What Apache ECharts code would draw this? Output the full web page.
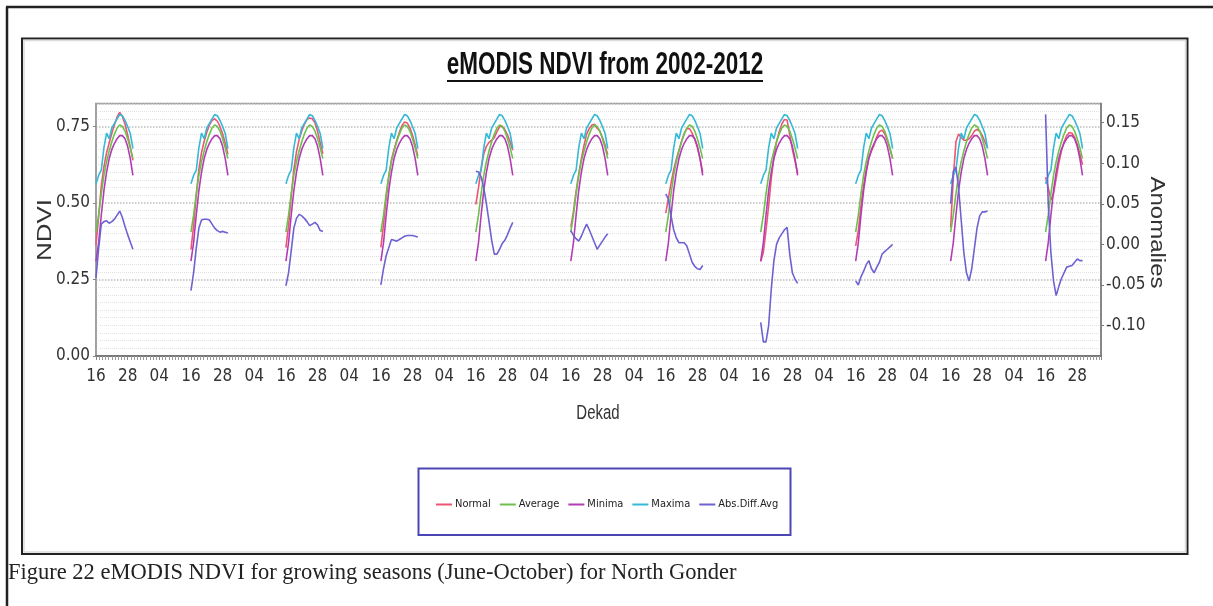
<!DOCTYPE html>
<html><head><meta charset="utf-8">
<script src="https://cdn.jsdelivr.net/npm/echarts@6/dist/echarts.min.js"></script>
<style>html,body{margin:0;padding:0;background:#fff}#c{width:1213px;height:606px}</style>
</head><body><div id="c"></div>
<script>
// ---------- data ----------
const YEARS = [2002,2003,2004,2005,2006,2007,2008,2009,2010,2011,2012];
const DEKADS = [16,17,18,19,20,21,22,23,24,25,26,27,28,29,30];
const SERIES_NAMES = ['Normal','Average','Minima','Maxima','Abs.Diff.Avg'];
const RIGHT_TICKS = [-0.10,-0.05,0.00,0.05,0.10,0.15];

// long-term curves (same every season)
const AVERAGE = [0.405,0.46,0.53,0.59,0.635,0.67,0.70,0.725,0.745,0.755,0.75,0.735,0.71,0.68,0.645];
const MINIMA  = [0.31,0.37,0.46,0.54,0.60,0.645,0.675,0.695,0.71,0.72,0.72,0.71,0.685,0.645,0.59];
const MAXIMA  = [0.563,0.59,0.607,0.68,0.728,0.71,0.745,0.76,0.775,0.789,0.785,0.77,0.75,0.727,0.678];

// season values for each year (NDVI)
const NORMAL = [
  [0.364,0.455,0.555,0.618,0.664,0.696,0.728,0.756,0.781,0.796,0.783,0.757,0.722,0.683,0.639],
  [0.348,0.425,0.525,0.61,0.665,0.701,0.731,0.755,0.77,0.775,0.767,0.75,0.726,0.695,0.659],
  [0.354,0.425,0.522,0.61,0.667,0.707,0.735,0.757,0.773,0.778,0.775,0.762,0.734,0.697,0.661],
  [0.355,0.43,0.516,0.586,0.641,0.675,0.704,0.731,0.753,0.765,0.761,0.746,0.721,0.69,0.654],
  [0.495,0.549,0.613,0.66,0.685,0.698,0.705,0.713,0.733,0.749,0.751,0.74,0.722,0.70,0.672],
  [0.422,0.471,0.537,0.594,0.645,0.688,0.725,0.743,0.755,0.757,0.744,0.734,0.714,0.689,0.658],
  [0.467,0.516,0.565,0.608,0.643,0.672,0.702,0.727,0.743,0.743,0.728,0.708,0.68,0.645,0.60],
  [0.309,0.34,0.41,0.49,0.58,0.65,0.70,0.733,0.758,0.773,0.771,0.723,0.675,0.637,0.597],
  [0.36,0.41,0.49,0.557,0.61,0.65,0.67,0.69,0.717,0.733,0.738,0.726,0.704,0.677,0.645],
  [0.42,0.58,0.70,0.725,0.715,0.705,0.705,0.71,0.72,0.735,0.74,0.735,0.72,0.70,0.68],
  [0.584,0.55,0.51,0.53,0.58,0.63,0.67,0.70,0.72,0.73,0.728,0.715,0.69,0.66,0.625]
];

// anomalies (right axis)
const ABS_DIFF_AVG = [
  [-0.041,-0.005,0.025,0.028,0.029,0.026,0.028,0.031,0.036,0.041,0.033,0.022,0.012,0.003,-0.006],
  [-0.057,-0.035,-0.005,0.02,0.03,0.031,0.031,0.03,0.025,0.02,0.017,0.015,0.016,0.015,0.014],
  [-0.051,-0.035,-0.008,0.02,0.032,0.037,0.035,0.032,0.028,0.023,0.025,0.027,0.024,0.017,0.016],
  [-0.05,-0.03,-0.014,-0.004,0.006,0.005,0.004,0.006,0.008,0.01,0.011,0.011,0.011,0.01,0.009],
  [0.09,0.089,0.083,0.07,0.05,0.028,0.005,-0.012,-0.012,-0.006,0.001,0.005,0.012,0.02,0.027],
  [0.017,0.011,0.007,0.004,0.01,0.018,0.025,0.018,0.01,0.002,-0.006,-0.001,0.004,0.009,0.013],
  [0.062,0.056,0.035,0.018,0.008,0.002,0.002,0.002,-0.002,-0.012,-0.022,-0.027,-0.03,-0.031,-0.026],
  [-0.096,-0.12,-0.12,-0.1,-0.055,-0.02,0.0,0.008,0.013,0.018,0.021,-0.012,-0.035,-0.043,-0.048],
  [-0.045,-0.05,-0.04,-0.033,-0.025,-0.02,-0.03,-0.035,-0.028,-0.022,-0.012,-0.009,-0.006,-0.003,0.0],
  [0.05,0.09,0.095,0.07,0.03,-0.01,-0.035,-0.045,-0.03,-0.005,0.02,0.035,0.04,0.04,0.041],
  [0.16,0.05,-0.01,-0.045,-0.063,-0.052,-0.042,-0.035,-0.028,-0.027,-0.026,-0.022,-0.018,-0.02,-0.02]
];

// ---------- build ----------
const DEK_PER_YEAR = 36, FIRST_DEKAD = 16;
function build(rowFor) {
  const out = [];
  YEARS.forEach((yr, i) => {
    const row = rowFor(i);
    DEKADS.forEach((d, j) => out.push([i * DEK_PER_YEAR + d - FIRST_DEKAD, row[j]]));
    if (i < YEARS.length - 1) out.push([i * DEK_PER_YEAR + 20, '-']);
  });
  return out;
}
const COLORS = ['#ec5573','#6cc14c','#b23cb4','#35b9d6','#6d62d2'];
const NARROW = '"Liberation Sans Narrow","Arial Narrow","DejaVu Sans Condensed","Liberation Sans",sans-serif';
const SANS = '"Liberation Sans",Arial,sans-serif';

const dataSets = [
  build(i => NORMAL[i]),
  build(() => AVERAGE),
  build(() => MINIMA),
  build(() => MAXIMA),
  build(i => ABS_DIFF_AVG[i])
];

const chart = echarts.init(document.getElementById('c'), null, {renderer: 'canvas'});
chart.setOption({
  animation: false,
  backgroundColor: '#fff',
  grid: {left: 96, right: 112, top: 103.5, bottom: 250, show: true, borderColor: '#9a9a9a', borderWidth: 1.5, backgroundColor: '#fff'},
  legend: {
    data: SERIES_NAMES, left: 431, top: 494, icon: 'rect', itemWidth: 16, itemHeight: 2, itemGap: 9,
    textStyle: {fontSize: 11, color: '#222', fontFamily: NARROW, padding: [0, 0, 0, -2]}
  },
  xAxis: {
    type: 'value', min: 0, max: 381, interval: 12,
    axisLine: {show: true, lineStyle: {color: '#777', width: 2}},
    axisTick: {show: true, length: 4, lineStyle: {color: '#888'}},
    minorTick: {show: true, splitNumber: 10, length: 4, lineStyle: {color: '#999'}},
    splitLine: {show: false},
    axisLabel: {
      margin: 12, fontSize: 17, color: '#333', fontFamily: NARROW, showMaxLabel: false,
      formatter: v => String(((v + FIRST_DEKAD - 1) % DEK_PER_YEAR) + 1).padStart(2, '0')
    }
  },
  yAxis: [
    {
      type: 'value', min: 0, max: 0.825, interval: 0.25, position: 'left',
      axisLine: {show: true, lineStyle: {color: '#9a9a9a', width: 1.5}},
      axisTick: {show: true, length: 3, lineStyle: {color: '#888'}},
      axisLabel: {fontSize: 17, color: '#333', fontFamily: NARROW, margin: 6, showMaxLabel: false, formatter: v => v.toFixed(2)},
      splitLine: {show: true, lineStyle: {color: '#bdbdbd', type: 'dotted', width: 1.5}},
      minorTick: {show: false, splitNumber: 10},
      minorSplitLine: {show: true, lineStyle: {color: '#e2e2e2', type: 'dotted', width: 1}}
    },
    {
      type: 'value', min: -0.1374, max: 0.1734, position: 'right',
      axisLine: {show: true, lineStyle: {color: '#777', width: 1.5}},
      axisTick: {show: true, length: 3, lineStyle: {color: '#777'}, customValues: RIGHT_TICKS},
      axisLabel: {fontSize: 17, color: '#333', fontFamily: NARROW, margin: 5, customValues: RIGHT_TICKS, formatter: v => v.toFixed(2)},
      splitLine: {show: false}
    }
  ],
  series: SERIES_NAMES.map((n, k) => ({
    name: n, type: 'line', yAxisIndex: k === 4 ? 1 : 0, symbol: 'none', connectNulls: false,
    lineStyle: {width: 1.6, color: COLORS[k]}, itemStyle: {color: COLORS[k]},
    data: dataSets[k]
  })),
  graphic: [
    {type: 'line', shape: {x1: 7, y1: 7, x2: 7, y2: 606}, style: {stroke: '#222', lineWidth: 2.5}},
    {type: 'line', shape: {x1: 6, y1: 7, x2: 1213, y2: 7}, style: {stroke: '#222', lineWidth: 2.5}},
    {type: 'rect', shape: {x: 22, y: 38.5, width: 1165.5, height: 515.5}, style: {stroke: '#222', lineWidth: 2, fill: 'none'}},
    {type: 'rect', shape: {x: 24, y: 40.5, width: 1161.5, height: 511.5}, style: {stroke: '#dcdcdc', lineWidth: 1.5, fill: 'none'}},
    {type: 'text', x: 605, y: 66, scaleY: 1.37, style: {text: 'eMODIS NDVI from 2002-2012', font: 'bold 22.5px ' + SANS, fill: '#111', textAlign: 'center', textVerticalAlign: 'middle', verticalAlign: 'middle'}},
    {type: 'line', shape: {x1: 447, y1: 81, x2: 763, y2: 81}, style: {stroke: '#111', lineWidth: 2}},
    {type: 'text', x: 45.5, y: 230, rotation: Math.PI / 2, scaleX: 1.3, style: {text: 'NDVI', font: '20px ' + SANS, fill: '#333', textAlign: 'center', textVerticalAlign: 'middle', verticalAlign: 'middle'}},
    {type: 'text', x: 1156.5, y: 232.5, rotation: -Math.PI / 2, scaleX: 1.2, style: {text: 'Anomalies', font: '20px ' + SANS, fill: '#333', textAlign: 'center', textVerticalAlign: 'middle', verticalAlign: 'middle'}},
    {type: 'text', x: 598, y: 414, scaleY: 1.3, style: {text: 'Dekad', font: '15px ' + SANS, fill: '#333', textAlign: 'center', textVerticalAlign: 'middle', verticalAlign: 'middle'}},
    {type: 'rect', shape: {x: 418.5, y: 468.5, width: 372, height: 66.5}, style: {stroke: '#4b46b4', lineWidth: 2, fill: 'none'}},
    {type: 'text', x: 8, y: 573, style: {text: 'Figure 22 eMODIS NDVI for growing seasons (June-October) for North Gonder', font: '22.5px "Liberation Serif","DejaVu Serif",serif', fill: '#222', textAlign: 'left', textVerticalAlign: 'middle', verticalAlign: 'middle'}}
  ]
});
</script></body></html>
